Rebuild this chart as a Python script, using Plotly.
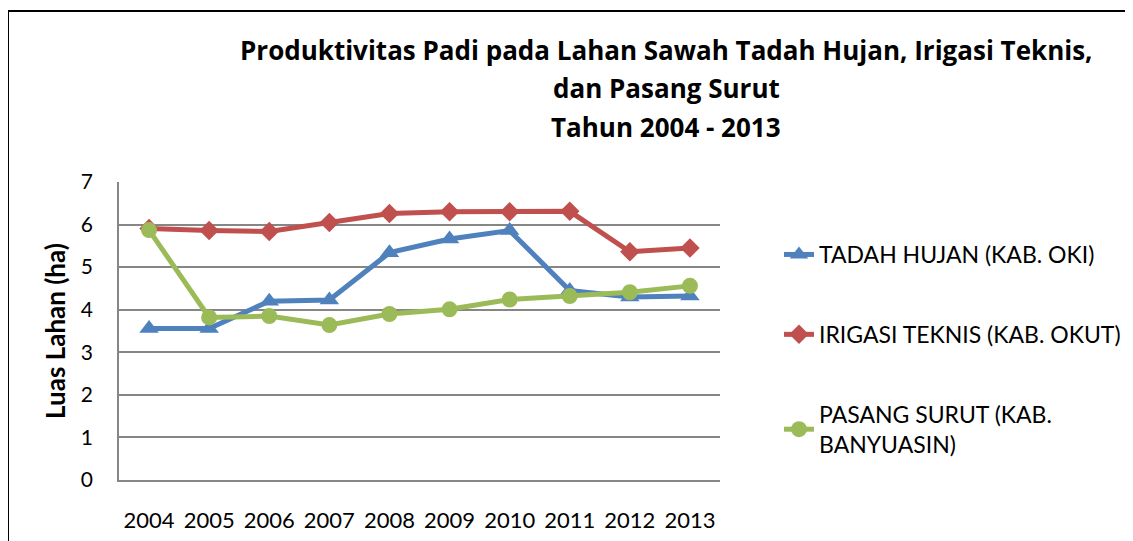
import plotly.graph_objects as go

years = ["2004", "2005", "2006", "2007", "2008", "2009", "2010", "2011", "2012", "2013"]
tadah_hujan = [3.56, 3.56, 4.2, 4.23, 5.34, 5.66, 5.86, 4.45, 4.3, 4.32]
irigasi_teknis = [5.91, 5.86, 5.84, 6.05, 6.26, 6.3, 6.3, 6.31, 5.36, 5.45]
pasang_surut = [5.87, 3.82, 3.85, 3.64, 3.9, 4.01, 4.24, 4.32, 4.41, 4.56]

names = ["TADAH HUJAN (KAB. OKI)", "IRIGASI TEKNIS (KAB. OKUT)", "PASANG SURUT (KAB.<br>BANYUASIN)"]
colors = ["#4F81BD", "#C0504D", "#9BBB59"]
symbols = ["triangle-up", "diamond", "circle"]
sizes = [17, 15, 16]
series = [tadah_hujan, irigasi_teknis, pasang_surut]

FONT = "Lato"

fig = go.Figure()
for i, (nm, vals) in enumerate(zip(names, series)):
    fig.add_trace(go.Scatter(
        x=years, y=vals, name=nm, mode="lines+markers",
        legendgroup=f"g{i}",
        line=dict(color=colors[i], width=5),
        marker=dict(symbol=symbols[i], size=sizes[i], color=colors[i]),
    ))

OFF = 8  # page body margin
W, H = 1133, 541
# plot area in page pixels: x 119..720, y 182..480
L = 119 - OFF
R = W - (720 - OFF)
T = 182 - OFF
B = H - (480 - OFF)
pw, ph = W - L - R, H - T - B

def px2x(px):
    return (px - OFF - L) / pw

def py2y(py):
    return (H - B - (py - OFF)) / ph

shapes = [
    dict(type="line", xref="paper", yref="paper", x0=px2x(8), x1=px2x(1150), y0=py2y(11), y1=py2y(11),
         line=dict(color="black", width=2)),
    dict(type="line", xref="paper", yref="paper", x0=px2x(8), x1=px2x(8), y0=py2y(11), y1=py2y(580),
         line=dict(color="black", width=2)),
]

title_lines = [
    ("Produktivitas Padi pada Lahan Sawah Tadah Hujan, Irigasi Teknis,", 50),
    ("dan Pasang Surut", 88),
    ("Tahun 2004 - 2013", 127),
]
annotations = [
    dict(text=f"<b>{t}</b>", xref="paper", yref="paper", x=px2x(666), y=py2y(yy),
         xanchor="center", yanchor="middle", showarrow=False,
         font=dict(family="Open Sans", size=26, color="black"))
    for t, yy in title_lines
]

fig.update_layout(
    width=W, height=H,
    margin=dict(l=L, r=R, t=T, b=B, autoexpand=False),
    paper_bgcolor="white", plot_bgcolor="white",
    font=dict(family=FONT, color="black"),
    shapes=shapes,
    annotations=annotations,
    showlegend=True,
    legend=dict(x=px2x(779), y=py2y(233), xanchor="left", yanchor="top",
                font=dict(family=FONT, size=23, color="black"),
                tracegroupgap=47, bgcolor="rgba(0,0,0,0)"),
    xaxis=dict(type="category", range=[-0.5, 9.5], showgrid=False,
               showline=True, linecolor="#868686", linewidth=1.5,
               ticks="", tickfont=dict(size=22, family=FONT, color="black"),
               ticklabelstandoff=20),
    yaxis=dict(range=[0, 7], dtick=1, showgrid=True, gridcolor="#868686", gridwidth=1.5,
               showline=True, linecolor="#868686", linewidth=1.5, zeroline=False,
               ticks="", tickfont=dict(size=21, family=FONT, color="black"),
               ticklabelstandoff=20,
               title=dict(text="<b>Luas Lahan (ha)</b>", font=dict(size=26, family=FONT, color="black"),
                          standoff=8)),
)

fig.write_html("out.html")
